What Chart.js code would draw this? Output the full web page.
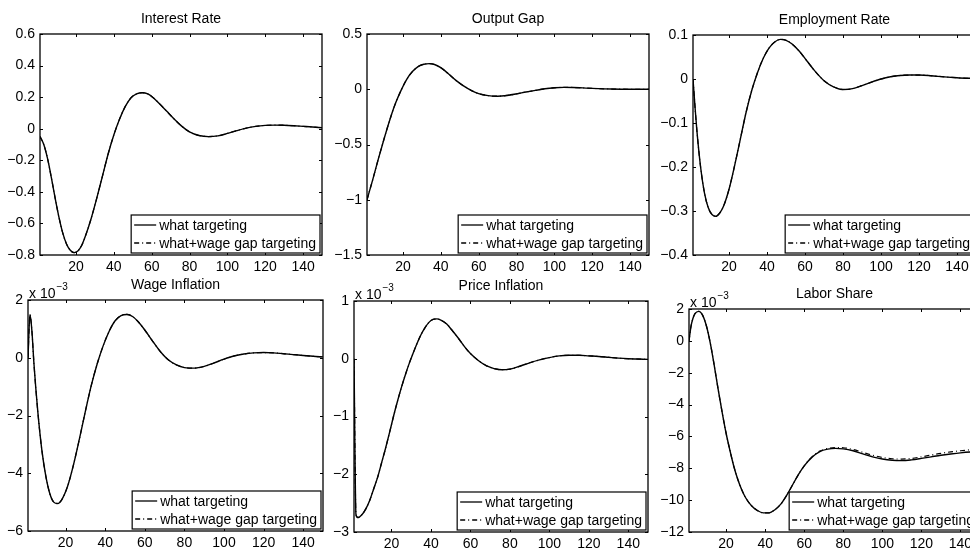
<!DOCTYPE html>
<html>
<head>
<meta charset="utf-8">
<script src="https://cdn.jsdelivr.net/npm/chart.js@4.4.1/dist/chart.umd.min.js"></script>
<style>
  html, body { margin: 0; padding: 0; background: #fff; width: 970px; height: 550px; overflow: hidden; }
  canvas { position: absolute; }
</style>
</head>
<body>
<script>
// impulse responses (bottom row in units of 10^-3)
const seriesNames = ['what targeting', 'what+wage gap targeting'];
const titles = ['Interest Rate', 'Output Gap', 'Employment Rate', 'Wage Inflation', 'Price Inflation', 'Labor Share'];
const periodTicks = [20, 40, 60, 80, 100, 120, 140];

const rateX = [1,3,5,7,9,11,13,15,17,19,21,23,25,28,31,34,37,40,43,46,49,52,55,58,61,64,68,72,76,80,85,90,95,100,105,110,115,120,125,130,135,140,145,150];
const rateWhat = [-0.05,-0.10,-0.19,-0.31,-0.44,-0.56,-0.66,-0.73,-0.77,-0.785,-0.775,-0.74,-0.68,-0.57,-0.44,-0.30,-0.16,-0.04,0.06,0.14,0.195,0.22,0.228,0.22,0.195,0.16,0.11,0.06,0.015,-0.02,-0.043,-0.05,-0.045,-0.03,-0.012,0.004,0.015,0.021,0.023,0.022,0.019,0.015,0.011,0.006];
const rateWage = [-0.05,-0.10,-0.19,-0.31,-0.44,-0.56,-0.66,-0.73,-0.77,-0.785,-0.775,-0.74,-0.68,-0.57,-0.44,-0.30,-0.16,-0.04,0.06,0.14,0.195,0.22,0.228,0.22,0.195,0.16,0.11,0.06,0.015,-0.02,-0.043,-0.05,-0.045,-0.03,-0.012,0.004,0.015,0.021,0.023,0.022,0.019,0.015,0.011,0.006];
const rateTicks = [-0.8, -0.6, -0.4, -0.2, 0, 0.2, 0.4, 0.6];

const gapX = [1,4,7,10,13,16,19,22,25,28,31,34,37,40,44,48,52,56,60,65,70,75,80,85,90,95,100,105,110,115,120,130,140,150];
const gapWhat = [-1.0,-0.82,-0.63,-0.45,-0.28,-0.13,-0.01,0.09,0.16,0.205,0.226,0.232,0.222,0.195,0.14,0.08,0.03,-0.01,-0.04,-0.058,-0.063,-0.056,-0.042,-0.025,-0.01,0.004,0.013,0.017,0.016,0.012,0.008,0.002,0.0,0.0];
const gapWage = [-1.0,-0.82,-0.63,-0.45,-0.28,-0.13,-0.01,0.09,0.16,0.205,0.226,0.232,0.222,0.195,0.14,0.08,0.03,-0.01,-0.04,-0.058,-0.063,-0.056,-0.042,-0.025,-0.01,0.004,0.013,0.017,0.016,0.012,0.008,0.002,0.0,0.0];
const gapTicks = [-1.5, -1, -0.5, 0, 0.5];

const empX = [1,2,3,5,7,9,11,13,15,17,20,23,26,29,32,35,38,41,44,47,50,53,57,61,65,70,75,80,85,90,95,100,105,110,115,120,125,130,140,150];
const empWhat = [0,-0.06,-0.115,-0.2,-0.258,-0.292,-0.308,-0.312,-0.305,-0.29,-0.25,-0.195,-0.135,-0.075,-0.025,0.015,0.047,0.07,0.084,0.09,0.088,0.08,0.063,0.041,0.019,-0.004,-0.018,-0.024,-0.022,-0.015,-0.007,0.0,0.005,0.008,0.009,0.009,0.008,0.006,0.003,0.001];
const empWage = [0,-0.06,-0.115,-0.2,-0.258,-0.292,-0.308,-0.312,-0.305,-0.29,-0.25,-0.195,-0.135,-0.075,-0.025,0.015,0.047,0.07,0.084,0.09,0.088,0.08,0.063,0.041,0.019,-0.004,-0.018,-0.024,-0.022,-0.015,-0.007,0.0,0.005,0.008,0.009,0.009,0.008,0.006,0.003,0.001];
const empTicks = [-0.4, -0.3, -0.2, -0.1, 0, 0.1];

const wageX = [1,2,3,4,6,8,10,12,14,16,18,21,24,27,30,33,36,39,42,45,48,51,54,57,60,64,68,72,76,80,85,90,95,100,105,110,115,120,125,130,135,140,145,150];
const wageWhat = [0,1.5,0.9,-0.2,-1.9,-3.2,-4.1,-4.7,-5.0,-5.05,-4.92,-4.45,-3.7,-2.8,-1.85,-0.95,-0.2,0.42,0.92,1.28,1.46,1.5,1.42,1.22,0.96,0.57,0.2,-0.08,-0.25,-0.34,-0.36,-0.3,-0.18,-0.05,0.06,0.13,0.17,0.18,0.17,0.14,0.11,0.08,0.05,0.03];
const wageWage = [0,1.5,0.9,-0.2,-1.9,-3.2,-4.1,-4.7,-5.0,-5.05,-4.92,-4.45,-3.7,-2.8,-1.85,-0.95,-0.2,0.42,0.92,1.28,1.46,1.5,1.42,1.22,0.96,0.57,0.2,-0.08,-0.25,-0.34,-0.36,-0.3,-0.18,-0.05,0.06,0.13,0.17,0.18,0.17,0.14,0.11,0.08,0.05,0.03];
const wageTicks = [-6, -4, -2, 0, 2];

const priceX = [1,2,3,5,7,9,11,13,15,17,19,21,23,25,27,29,31,33,35,37,39,41,43,45,48,51,54,57,60,64,68,72,76,80,85,90,95,100,105,110,115,120,125,130,135,140,145,150];
const priceWhat = [0,-2.7,-2.75,-2.7,-2.6,-2.45,-2.25,-2.05,-1.8,-1.55,-1.28,-1.0,-0.74,-0.5,-0.28,-0.08,0.1,0.27,0.42,0.54,0.63,0.68,0.69,0.67,0.6,0.48,0.35,0.21,0.09,-0.03,-0.12,-0.17,-0.19,-0.18,-0.13,-0.07,-0.02,0.02,0.05,0.06,0.06,0.05,0.04,0.025,0.01,0.0,-0.005,-0.01];
const priceWage = [0,-2.7,-2.75,-2.7,-2.6,-2.45,-2.25,-2.05,-1.8,-1.55,-1.28,-1.0,-0.74,-0.5,-0.28,-0.08,0.1,0.27,0.42,0.54,0.63,0.68,0.69,0.67,0.6,0.48,0.35,0.21,0.09,-0.03,-0.12,-0.17,-0.19,-0.18,-0.13,-0.07,-0.02,0.02,0.05,0.06,0.06,0.05,0.04,0.025,0.01,0.0,-0.005,-0.01];
const priceTicks = [-3, -2, -1, 0, 1];

const shareX = [1,2,3,4,6,8,10,12,14,16,18,20,22,24,26,28,30,33,36,39,42,45,48,51,54,57,60,64,68,72,76,80,85,90,95,100,105,110,115,120,125,130,135,140,145,150];
const shareWhat = [0,0.9,1.4,1.7,1.85,1.6,0.9,-0.2,-1.6,-3.1,-4.5,-5.8,-6.9,-7.9,-8.7,-9.35,-9.85,-10.35,-10.65,-10.8,-10.8,-10.6,-10.25,-9.7,-9.05,-8.4,-7.85,-7.3,-6.95,-6.8,-6.75,-6.78,-6.9,-7.1,-7.28,-7.42,-7.5,-7.52,-7.47,-7.38,-7.28,-7.18,-7.1,-7.03,-6.98,-6.95];
const shareWage = [0,0.9,1.4,1.7,1.85,1.6,0.9,-0.2,-1.6,-3.1,-4.5,-5.8,-6.9,-7.9,-8.7,-9.35,-9.85,-10.35,-10.65,-10.8,-10.8,-10.6,-10.25,-9.7,-9.05,-8.4,-7.85,-7.28,-6.92,-6.76,-6.7,-6.71,-6.82,-7.0,-7.18,-7.32,-7.4,-7.42,-7.38,-7.28,-7.17,-7.06,-6.97,-6.9,-6.84,-6.8];
const shareTicks = [-12, -10, -8, -6, -4, -2, 0, 2];

// plot boxes in page pixels: left, top, right, bottom
const panels = [
  { xs: rateX,  a: rateWhat,  b: rateWage,  ticks: rateTicks,  box: [40, 34, 322, 255],  exp: false },
  { xs: gapX,   a: gapWhat,   b: gapWage,   ticks: gapTicks,   box: [367, 34, 649, 255], exp: false },
  { xs: empX,   a: empWhat,   b: empWage,   ticks: empTicks,   box: [693, 35, 976, 255], exp: false },
  { xs: wageX,  a: wageWhat,  b: wageWage,  ticks: wageTicks,  box: [28, 300, 323, 531], exp: true },
  { xs: priceX, a: priceWhat, b: priceWage, ticks: priceTicks, box: [354, 301, 648, 532], exp: true },
  { xs: shareX, a: shareWhat, b: shareWage, ticks: shareTicks, box: [689, 309, 980, 532], exp: true }
];

const FONT = '"Liberation Sans", Arial, Helvetica, sans-serif';
Chart.defaults.font.family = FONT;
Chart.defaults.font.size = 14;
Chart.defaults.color = '#000';

const PAD_L = 40, PAD_T = 30, PAD_R = 10, PAD_B = 22;
const DASHDOT = [5, 3, 1, 3];

function fmt(v) { return String(v).replace('-', '\u2212'); }
function pts(xs, ys) { return xs.map((x, i) => ({ x: x, y: ys[i] })); }

// matlab style box, inward ticks, title, exponent and legend
const matlabAxes = {
  id: 'matlabAxes',
  afterDatasetsDraw(chart, args, opts) {
    const { ctx, chartArea: a, scales } = chart;
    const sx = scales.x, sy = scales.y;
    ctx.save();
    ctx.strokeStyle = '#000';
    ctx.lineWidth = 1;
    ctx.beginPath();
    sx.ticks.forEach(t => {
      const p = Math.round(sx.getPixelForValue(t.value)) + 0.5;
      ctx.moveTo(p, a.bottom); ctx.lineTo(p, a.bottom - 3);
      ctx.moveTo(p, a.top); ctx.lineTo(p, a.top + 3);
    });
    sy.ticks.forEach(t => {
      const p = Math.round(sy.getPixelForValue(t.value)) + 0.5;
      ctx.moveTo(a.left, p); ctx.lineTo(a.left + 3, p);
      ctx.moveTo(a.right, p); ctx.lineTo(a.right - 3, p);
    });
    ctx.stroke();
    ctx.lineWidth = 1.3;
    ctx.strokeRect(a.left, a.top, a.right - a.left, a.bottom - a.top);

    // legend, south east
    ctx.font = '14px ' + FONT;
    const tw = Math.max(...seriesNames.map(s => ctx.measureText(s).width));
    const w = 28 + tw + 4, h = 38;
    const lx = a.right - 2 - w, ly = a.bottom - 2 - h;
    ctx.fillStyle = '#fff';
    ctx.fillRect(lx, ly, w, h);
    ctx.lineWidth = 1.2;
    ctx.strokeRect(lx, ly, w, h);
    ctx.fillStyle = '#000';
    ctx.textBaseline = 'middle';
    ctx.textAlign = 'left';
    seriesNames.forEach((s, i) => {
      const yy = ly + 10 + i * 18;
      ctx.beginPath();
      ctx.setLineDash(i ? DASHDOT : []);
      ctx.lineWidth = 1.3;
      ctx.moveTo(lx + 3, yy); ctx.lineTo(lx + 25, yy);
      ctx.stroke();
      ctx.fillText(s, lx + 28, yy + 1);
    });
    ctx.setLineDash([]);
    ctx.restore();
  },
  afterDraw(chart, args, opts) {
    const { ctx, chartArea: a } = chart;
    ctx.save();
    ctx.fillStyle = '#000';
    ctx.font = '14px ' + FONT;
    ctx.textAlign = 'center';
    ctx.textBaseline = 'middle';
    ctx.fillText(opts.title, (a.left + a.right) / 2, a.top - 15);
    if (opts.exp) {
      ctx.textAlign = 'left';
      ctx.fillText('x 10', a.left + 1, a.top - 6);
      const bw = ctx.measureText('x 10').width;
      ctx.font = '10px ' + FONT;
      ctx.fillText('\u22123', a.left + 2 + bw, a.top - 13);
    }
    ctx.restore();
  }
};

panels.forEach((p, i) => {
  const [L, T, R, B] = p.box;
  const cv = document.createElement('canvas');
  cv.width = R - L + PAD_L + PAD_R;
  cv.height = B - T + PAD_T + PAD_B;
  cv.style.left = (L - PAD_L) + 'px';
  cv.style.top = (T - PAD_T) + 'px';
  document.body.appendChild(cv);

  new Chart(cv, {
    type: 'line',
    data: {
      datasets: [
        { label: seriesNames[0], data: pts(p.xs, p.a), borderColor: '#000', borderWidth: 1.4, order: 1 },
        { label: seriesNames[1], data: pts(p.xs, p.b), borderColor: '#000', borderWidth: 1.2, borderDash: DASHDOT, order: 0 }
      ]
    },
    options: {
      responsive: false,
      animation: false,
      devicePixelRatio: 1,
      layout: { padding: { top: PAD_T, right: PAD_R, left: 0, bottom: 0 } },
      elements: { point: { radius: 0 }, line: { cubicInterpolationMode: 'monotone', fill: false } },
      scales: {
        x: {
          type: 'linear', min: 1, max: 150,
          grid: { display: false, drawTicks: false }, border: { display: false },
          ticks: { padding: 4, maxRotation: 0, callback: v => String(v) },
          afterBuildTicks: s => { s.ticks = periodTicks.map(v => ({ value: v })); },
          afterFit: s => { s.height = PAD_B; }
        },
        y: {
          min: p.ticks[0], max: p.ticks[p.ticks.length - 1],
          grid: { display: false, drawTicks: false }, border: { display: false },
          ticks: { padding: 5, callback: v => fmt(v) },
          afterBuildTicks: s => { s.ticks = p.ticks.map(v => ({ value: v })); },
          afterFit: s => { s.width = PAD_L; }
        }
      },
      plugins: {
        legend: { display: false },
        tooltip: { enabled: false },
        matlabAxes: { title: titles[i], exp: p.exp }
      }
    },
    plugins: [matlabAxes]
  });
});
</script>
</body>
</html>
